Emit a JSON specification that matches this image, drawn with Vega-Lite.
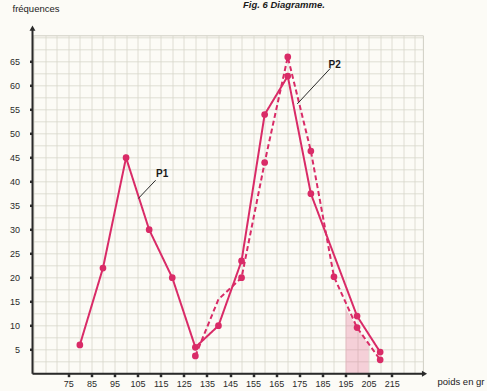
{
  "$schema": "https://vega.github.io/schema/vega-lite/v6.json",
  "width": 390.4,
  "height": 338.4,
  "autosize": "none",
  "padding": {"left": 32.5, "top": 35.3, "right": 64.1, "bottom": 17.3},
  "background": "#fcfbf6",
  "view": {"stroke": "#cfcec4", "strokeWidth": 1},
  "config": {"font": "Liberation Sans"},
  "title": {
    "text": "Fig. 6  Diagramme.",
    "anchor": "start",
    "frame": "group",
    "dx": 210.5,
    "dy": 14,
    "offset": 0,
    "baseline": "alphabetic",
    "fontSize": 9.5,
    "fontStyle": "italic",
    "fontWeight": "bold",
    "color": "#1a1a1a"
  },
  "datasets": {
    "lines": [
      {"series": "P1", "x": 80, "y": 6},
      {"series": "P1", "x": 90, "y": 22},
      {"series": "P1", "x": 100, "y": 45},
      {"series": "P1", "x": 110, "y": 30},
      {"series": "P1", "x": 120, "y": 20},
      {"series": "P1", "x": 130, "y": 5.5},
      {"series": "P1", "x": 140, "y": 10},
      {"series": "P1", "x": 150, "y": 23.5},
      {"series": "P1", "x": 160, "y": 54},
      {"series": "P1", "x": 170, "y": 62},
      {"series": "P1", "x": 180, "y": 37.5},
      {"series": "P1", "x": 200, "y": 12},
      {"series": "P1", "x": 210, "y": 4.5},
      {"series": "P2", "x": 130, "y": 3.7},
      {"series": "P2", "x": 140, "y": 15.5},
      {"series": "P2", "x": 150, "y": 20},
      {"series": "P2", "x": 160, "y": 44},
      {"series": "P2", "x": 170, "y": 66},
      {"series": "P2", "x": 180, "y": 46.4},
      {"series": "P2", "x": 190, "y": 20.2},
      {"series": "P2", "x": 200, "y": 9.6},
      {"series": "P2", "x": 210, "y": 2.9}
    ],
    "dots": [
      {"x": 80, "y": 6}, {"x": 90, "y": 22}, {"x": 100, "y": 45}, {"x": 110, "y": 30},
      {"x": 120, "y": 20}, {"x": 130, "y": 5.5}, {"x": 140, "y": 10}, {"x": 150, "y": 23.5},
      {"x": 160, "y": 54}, {"x": 170, "y": 62}, {"x": 180, "y": 37.5}, {"x": 200, "y": 12},
      {"x": 210, "y": 4.5},
      {"x": 130, "y": 3.7}, {"x": 150, "y": 20}, {"x": 160, "y": 44}, {"x": 170, "y": 66},
      {"x": 180, "y": 46.4}, {"x": 190, "y": 20.2}, {"x": 200, "y": 9.6}, {"x": 210, "y": 2.9}
    ],
    "hatch": [
      {"x": 195, "y": 13.6},
      {"x": 200, "y": 9.6},
      {"x": 205, "y": 6.0}
    ],
    "labels": [
      {"text": "P1", "x": 115.6, "y": 41.6},
      {"text": "P2", "x": 190.3, "y": 64.3}
    ],
    "leaders": [
      {"x": 112.8, "y": 40.3, "x2": 105.3, "y2": 36.5},
      {"x": 188.4, "y": 63.6, "x2": 174.1, "y2": 56.2}
    ],
    "axislines": [
      {"end": "x", "x": 59.5, "y": 0, "x2": 229.2, "y2": 0},
      {"end": "y", "x": 59.5, "y": 0, "x2": 59.5, "y2": 72}
    ]
  },
  "encoding": {
    "x": {
      "field": "x",
      "type": "quantitative",
      "scale": {"domain": [59.5, 228.5], "nice": false, "zero": false},
      "axis": {
        "values": [60, 65, 70, 75, 80, 85, 90, 95, 100, 105, 110, 115, 120, 125, 130, 135, 140, 145, 150, 155, 160, 165, 170, 175, 180, 185, 190, 195, 200, 205, 210, 215, 220, 225],
        "grid": true,
        "gridColor": "#d8d7cc",
        "gridWidth": 0.8,
        "domain": false,
        "ticks": true,
        "tickColor": "#2a2a2a",
        "tickSize": 3,
        "tickWidth": 2.5,
        "tickOpacity": {"condition": {"test": "datum.value % 10 == 5 && datum.value >= 75 && datum.value <= 215", "value": 1}, "value": 0},
        "labelExpr": "(datum.value % 10 == 5 && datum.value >= 75 && datum.value <= 215) ? datum.label : ''",
        "labelFontSize": 9,
        "labelColor": "#2a2a2a",
        "labelPadding": 3,
        "labelFlush": false,
        "labelOverlap": false,
        "title": "poids en gr",
        "titleX": 404.5,
        "titleY": 8,
        "titleAlign": "left",
        "titleBaseline": "middle",
        "titleFontSize": 9.5,
        "titleFontWeight": "normal",
        "titleColor": "#1a1a1a"
      }
    },
    "y": {
      "field": "y",
      "type": "quantitative",
      "scale": {"domain": [0, 70.5], "nice": false, "zero": true},
      "axis": {
        "values": [0, 2.5, 5, 7.5, 10, 12.5, 15, 17.5, 20, 22.5, 25, 27.5, 30, 32.5, 35, 37.5, 40, 42.5, 45, 47.5, 50, 52.5, 55, 57.5, 60, 62.5, 65, 67.5, 70],
        "grid": true,
        "gridColor": "#d8d7cc",
        "gridWidth": 0.8,
        "domain": false,
        "ticks": true,
        "tickColor": "#2a2a2a",
        "tickSize": 3,
        "tickWidth": 2.5,
        "tickOpacity": {"condition": {"test": "datum.value % 5 == 0 && datum.value >= 5 && datum.value <= 65", "value": 1}, "value": 0},
        "labelExpr": "(datum.value % 5 == 0 && datum.value >= 5 && datum.value <= 65) ? datum.label : ''",
        "labelFontSize": 9,
        "labelColor": "#2a2a2a",
        "labelPadding": 10,
        "labelFlush": false,
        "labelOverlap": false,
        "title": "fréquences",
        "titleAngle": 0,
        "titleX": -20.5,
        "titleY": -27.3,
        "titleAlign": "left",
        "titleBaseline": "middle",
        "titleFontSize": 9.5,
        "titleFontWeight": "normal",
        "titleColor": "#1a1a1a"
      }
    }
  },
  "layer": [
    {
      "data": {"name": "hatch"},
      "mark": {"type": "area", "color": "#e2628c", "opacity": 0.28},
      "encoding": {
        "y2": {"datum": 0}
      }
    },
    {
      "data": {"name": "lines"},
      "mark": {"type": "line", "color": "#d92b67", "strokeWidth": 2},
      "encoding": {
        "strokeDash": {
          "field": "series",
          "type": "nominal",
          "scale": {"domain": ["P1", "P2"], "range": [[1, 0], [5, 3]]},
          "legend": null
        }
      }
    },
    {
      "data": {"name": "dots"},
      "mark": {"type": "point", "filled": true, "color": "#d92b67", "opacity": 1, "size": 45}
    },
    {
      "data": {"name": "axislines"},
      "mark": {"type": "rule", "color": "#2a2a2a", "strokeWidth": 2},
      "encoding": {
        "x2": {"field": "x2"},
        "y2": {"field": "y2"}
      }
    },
    {
      "data": {"name": "axislines"},
      "transform": [{"filter": "datum.end == 'x'"}],
      "mark": {"type": "point", "shape": "triangle-right", "filled": true, "color": "#2a2a2a", "opacity": 1, "size": 35},
      "encoding": {
        "x": {"field": "x2", "type": "quantitative"},
        "y": {"field": "y2", "type": "quantitative"}
      }
    },
    {
      "data": {"name": "axislines"},
      "transform": [{"filter": "datum.end == 'y'"}],
      "mark": {"type": "point", "shape": "triangle-up", "filled": true, "color": "#2a2a2a", "opacity": 1, "size": 35},
      "encoding": {
        "x": {"field": "x2", "type": "quantitative"},
        "y": {"field": "y2", "type": "quantitative"}
      }
    },
    {
      "data": {"name": "leaders"},
      "mark": {"type": "rule", "color": "#2a2a2a", "strokeWidth": 1},
      "encoding": {
        "x2": {"field": "x2"},
        "y2": {"field": "y2"}
      }
    },
    {
      "data": {"name": "labels"},
      "mark": {"type": "text", "fontSize": 10, "fontWeight": "bold", "color": "#1a1a1a", "align": "center", "baseline": "middle"},
      "encoding": {
        "text": {"field": "text"}
      }
    }
  ]
}
